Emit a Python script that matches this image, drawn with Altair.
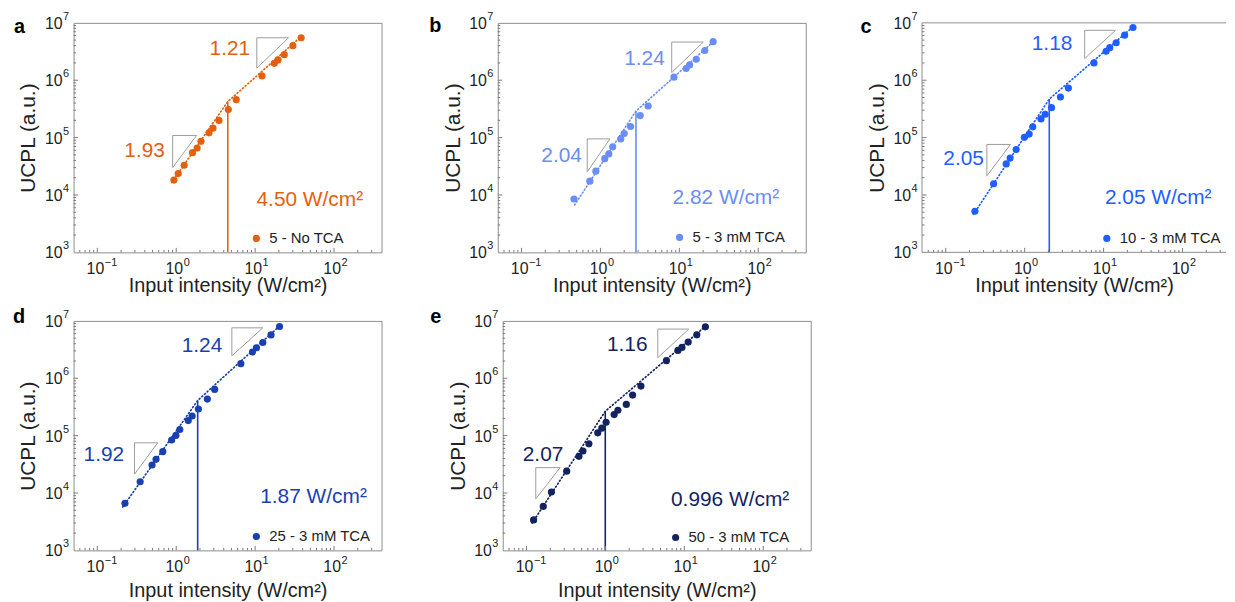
import altair as alt
import pandas as pd

FONT = "Liberation Sans"
TXT = "#222222"
FRAME = "#8c8c8c"
TRI = "#9c9c9c"

# ---------------- data ----------------
letters = ["a", "b", "c", "d", "e"]
legend_labels = ["5 - No TCA", "5 - 3 mM TCA", "10 - 3 mM TCA", "25 - 3 mM TCA", "50 - 3 mM TCA"]
colors = ["#E5600E", "#6A8DF6", "#1F5EFF", "#1A40B0", "#13235F"]

a_x = [0.935, 1.06, 1.26, 1.61, 1.84, 2.06, 2.60, 2.92, 3.48, 4.57, 5.76, 12.2, 17.5, 19.5, 23.4, 30.1, 38.3]
a_y = [1.82e4, 2.36e4, 3.3e4, 5.46e4, 6.58e4, 8.6e4, 1.21e5, 1.46e5, 1.99e5, 3.08e5, 4.59e5,
       1.19e6, 1.97e6, 2.26e6, 2.79e6, 4.0e6, 5.5e6]
b_x = [0.462, 0.734, 0.875, 1.135, 1.276, 1.43, 1.81, 2.0, 2.41, 3.19, 4.02, 8.55, 12.2, 13.5, 16.4, 21.0, 26.8]
b_y = [8.5e3, 1.74e4, 2.6e4, 4.3e4, 5.2e4, 6.9e4, 9.5e4, 1.18e5, 1.56e5, 2.42e5, 3.56e5,
       1.13e6, 1.6e6, 1.85e6, 2.32e6, 3.3e6, 4.7e6]
c_x = [0.234, 0.404, 0.583, 0.654, 0.780, 0.991, 1.14, 1.265, 1.61, 1.82, 2.19, 2.84, 3.58,
       7.55, 10.76, 11.99, 14.44, 18.5, 23.6]
c_y = [5.2e3, 1.57e4, 3.48e4, 4.4e4, 6.2e4, 1.01e5, 1.15e5, 1.54e5, 2.12e5, 2.55e5, 3.33e5, 5.1e5, 7.3e5,
       2.0e6, 3.2e6, 3.7e6, 4.5e6, 6.1e6, 8.3e6]
d_x = [0.224, 0.349, 0.494, 0.555, 0.675, 0.875, 0.99, 1.11, 1.42, 1.59, 1.91, 2.48, 3.07,
       6.59, 9.25, 10.4, 12.5, 15.9, 20.4]
d_y = [6.6e3, 1.57e4, 3.08e4, 3.87e4, 5.25e4, 8.4e4, 1.01e5, 1.28e5, 1.83e5, 2.2e5, 2.91e5, 4.34e5, 6.4e5,
       1.8e6, 2.87e6, 3.4e6, 4.2e6, 5.7e6, 8.0e6]
e_x = [0.123, 0.163, 0.207, 0.323, 0.462, 0.519, 0.618, 0.80, 0.90, 1.02, 1.29, 1.44, 1.84, 2.21, 2.82,
       5.93, 8.3, 9.33, 11.2, 14.4, 18.5]
e_y = [3.4e3, 5.85e3, 1.04e4, 2.4e4, 4.36e4, 5.4e4, 7.2e4, 1.12e5, 1.35e5, 1.71e5, 2.33e5, 2.77e5, 3.5e5,
       5.1e5, 7.3e5, 2.03e6, 3.06e6, 3.45e6, 4.28e6, 5.72e6, 7.87e6]

# two-segment power-law fits: start, threshold, end
a_fit_x = [0.88, 4.50, 38.5]
a_fit_y = [1.65e4, 4.24e5, 5.8e6]
b_fit_x = [0.47, 2.82, 27.5]
b_fit_y = [6.7e3, 2.9e5, 4.8e6]
c_fit_x = [0.225, 2.05, 23.8]
c_fit_y = [4.6e3, 4.7e5, 8.6e6]
d_fit_x = [0.21, 1.87, 20.5]
d_fit_y = [5.7e3, 4.1e5, 8.2e6]
e_fit_x = [0.118, 0.996, 18.8]
e_fit_y = [3.0e3, 2.66e5, 8.2e6]

thresholds = [4.50, 2.82, 2.05, 1.87, 0.996]
threshold_labels = ["4.50 W/cm²", "2.82 W/cm²", "2.05 W/cm²", "1.87 W/cm²", "0.996 W/cm²"]
threshold_label_x = [10.4, 8.2, 10.4, 11.6, 6.78]
threshold_label_y = [8.2e3, 8.7e3, 8.7e3, 8.4e3, 7.6e3]

# slope triangles (upper, lower): left x, right x, top y, bottom y
a_tri = ([10.5, 0.90], [26.5, 1.81], [5.5e6, 1.09e5], [1.62e6, 3.0e4])
b_tri = ([8.0, 0.68], [20.1, 1.32], [4.63e6, 9.5e4], [1.36e6, 2.53e4])
c_tri = ([5.76, 0.332], [14.16, 0.661], [7.4e6, 7.6e4], [2.38e6, 2.15e4])
d_tri = ([5.07, 0.296], [12.5, 0.583], [7.57e6, 7.5e4], [2.45e6, 2.13e4])
e_tri = ([4.61, 0.131], [11.4, 0.267], [7.2e6, 2.77e4], [2.29e6, 7.9e3])

# slope labels (upper, lower): text, right-edge x, centre y
a_slopes = (["1.21", "1.93"], [8.65, 0.72], [3.45e6, 5.8e4])
b_slopes = (["1.24", "2.04"], [6.53, 0.583], [2.3e6, 4.8e4])
c_slopes = (["1.18", "2.05"], [4.02, 0.305], [4.2e6, 4.3e4])
d_slopes = (["1.24", "1.92"], [3.84, 0.219], [3.69e6, 4.6e4])
e_slopes = (["1.16", "2.07"], [3.42, 0.293], [3.8e6, 4.54e4])

# axis ticks / labels
x_major = [0.1, 1, 10, 100]
x_major_exp = ["−1", "0", "1", "2"]
x_minor = [0.06, 0.07, 0.08, 0.09, 0.2, 0.3, 0.4, 0.5, 0.6, 0.7, 0.8, 0.9,
           2, 3, 4, 5, 6, 7, 8, 9, 20, 30, 40, 50, 60, 70, 80, 90, 200, 300]
y_major = [1e3, 1e4, 1e5, 1e6, 1e7]
y_major_exp = ["3", "4", "5", "6", "7"]
y_minor = [m * 10 ** k for k in range(3, 7) for m in range(2, 10)]

X_TITLE = "Input intensity (W/cm²)"
Y_TITLE = "UCPL (a.u.)"

H = 231


def make_panel(i, xs, ys, fx, fy, tri, slopes, width, xmax, letter_pos, legend_pos,
               x_title_pad, right_border=True):
    color = colors[i]
    W = width
    xsc = alt.Scale(type="log", domain=[0.05, xmax], nice=False)
    ysc = alt.Scale(type="log", domain=[1e3, 1e7], nice=False)
    xax = alt.Axis(title=X_TITLE, labels=False, ticks=False, domain=False, grid=False,
                   titleFont=FONT, titleFontSize=20, titleFontWeight="normal", titleColor=TXT,
                   titlePadding=x_title_pad, minExtent=0, maxExtent=0)
    yax = alt.Axis(title=Y_TITLE, labels=False, ticks=False, domain=False, grid=False,
                   titleFont=FONT, titleFontSize=21, titleFontWeight="normal", titleColor=TXT,
                   titlePadding=35, minExtent=0, maxExtent=0)

    def X(field="x"):
        return alt.X(f"{field}:Q", scale=xsc, axis=xax)

    def Y(field="y"):
        return alt.Y(f"{field}:Q", scale=ysc, axis=yax)

    layers = []
    pts = pd.DataFrame({"x": xs, "y": ys})
    layers.append(alt.Chart(pts).mark_circle(size=52, opacity=1, color=color).encode(x=X(), y=Y()))

    fit = pd.DataFrame({"x": fx, "y": fy, "o": list(range(len(fx)))})
    layers.append(alt.Chart(fit).mark_line(color=color, strokeDash=[1, 2.6], strokeCap="round",
                                           strokeWidth=1.7).encode(x=X(), y=Y(), order="o:Q"))

    thr = pd.DataFrame({"x": [thresholds[i]], "y": [1e3], "y2": [fy[1]]})
    layers.append(alt.Chart(thr).mark_rule(color=color, strokeWidth=1.6).encode(
        x=X(), y=Y(), y2="y2:Q"))

    x0s, x1s, tops, bots = tri
    rows = []
    for k in range(2):
        corners = [(x0s[k], bots[k]), (x0s[k], tops[k]), (x1s[k], tops[k]), (x0s[k], bots[k])]
        for o, (cx, cy) in enumerate(corners):
            rows.append({"t": k, "o": o, "x": cx, "y": cy})
    layers.append(alt.Chart(pd.DataFrame(rows)).mark_line(color=TRI, strokeWidth=1).encode(
        x=X(), y=Y(), detail="t:N", order="o:Q"))

    st, sx, sy = slopes
    layers.append(alt.Chart(pd.DataFrame({"t": st, "x": sx, "y": sy})).mark_text(
        align="right", baseline="middle", font=FONT, fontSize=21, color=color).encode(
        x=X(), y=Y(), text="t:N"))

    tl = pd.DataFrame({"t": [threshold_labels[i]], "x": [threshold_label_x[i]],
                       "y": [threshold_label_y[i]]})
    layers.append(alt.Chart(tl).mark_text(align="left", baseline="middle", font=FONT,
                                          fontSize=21, color=color).encode(
        x=X(), y=Y(), text="t:N"))

    # legend
    lx, ly, ltx = legend_pos
    lg = pd.DataFrame({"t": [legend_labels[i]]})
    layers.append(alt.Chart(lg).mark_circle(size=52, opacity=1, color=color).encode(
        x=alt.value(lx), y=alt.value(ly)))
    layers.append(alt.Chart(lg).mark_text(align="left", baseline="middle", font=FONT,
                                          fontSize=15, color=TXT).encode(
        x=alt.value(ltx), y=alt.value(ly), text="t:N"))

    # panel letter
    px, py = letter_pos
    layers.append(alt.Chart(pd.DataFrame({"t": [letters[i]]})).mark_text(
        align="left", baseline="alphabetic", font=FONT, fontSize=20, fontWeight="bold",
        color="#000000").encode(x=alt.value(px), y=alt.value(py), text="t:N"))

    # inward ticks
    xm = pd.DataFrame({"x": [v for v in x_major if v < xmax]})
    xn = pd.DataFrame({"x": [v for v in x_minor if v < xmax]})
    ym = pd.DataFrame({"y": y_major[1:-1]})
    yn = pd.DataFrame({"y": y_minor})
    tick = dict(color="#7a7a7a", strokeWidth=1)
    layers.append(alt.Chart(xm).mark_rule(**tick).encode(x=X(), y=alt.value(H), y2=alt.value(H - 4.5)))
    layers.append(alt.Chart(xn).mark_rule(**tick).encode(x=X(), y=alt.value(H), y2=alt.value(H - 2.5)))
    layers.append(alt.Chart(ym).mark_rule(**tick).encode(y=Y(), x=alt.value(0), x2=alt.value(4.5)))
    layers.append(alt.Chart(yn).mark_rule(**tick).encode(y=Y(), x=alt.value(0), x2=alt.value(2.5)))

    # tick labels (10 with superscript exponent)
    xl = pd.DataFrame({"x": x_major, "b": ["10"] * len(x_major), "e": x_major_exp})
    layers.append(alt.Chart(xl).mark_text(align="right", baseline="middle", font=FONT, fontSize=16,
                                          color=TXT, dx=7).encode(
        x=X(), y=alt.value(H + 17), text="b:N"))
    layers.append(alt.Chart(xl).mark_text(align="left", baseline="middle", font=FONT, fontSize=11,
                                          color=TXT, dx=7.5).encode(
        x=X(), y=alt.value(H + 10.5), text="e:N"))
    yl = pd.DataFrame({"y": y_major, "b": ["10"] * len(y_major), "e": y_major_exp})
    layers.append(alt.Chart(yl).mark_text(align="right", baseline="middle", font=FONT, fontSize=16,
                                          color=TXT, dy=1).encode(
        x=alt.value(-11), y=Y(), text="b:N"))
    layers.append(alt.Chart(yl).mark_text(align="right", baseline="middle", font=FONT, fontSize=11,
                                          color=TXT, dy=-6).encode(
        x=alt.value(-4.5), y=Y(), text="e:N"))

    if not right_border:
        fr = pd.DataFrame({"t": [0]})
        fs = dict(color=FRAME, strokeWidth=1)
        layers.append(alt.Chart(fr).mark_rule(**fs).encode(x=alt.value(0), x2=alt.value(W), y=alt.value(0)))
        layers.append(alt.Chart(fr).mark_rule(**fs).encode(x=alt.value(0), x2=alt.value(W), y=alt.value(H)))
        layers.append(alt.Chart(fr).mark_rule(**fs).encode(x=alt.value(0), y=alt.value(0), y2=alt.value(H)))
        view = alt.ViewBackground(stroke="transparent")
    else:
        view = alt.ViewBackground(stroke=FRAME, strokeWidth=1)

    return alt.layer(*layers).properties(width=W, height=H, view=view)


pa = make_panel(0, a_x, a_y, a_fit_x, a_fit_y, a_tri, a_slopes, 310, 400, (-60, 10), (184, 217, 197), 23)
pb = make_panel(1, b_x, b_y, b_fit_x, b_fit_y, b_tri, b_slopes, 310, 400, (-69, 9.5), (183, 216, 196), 23)
pc = make_panel(2, c_x, c_y, c_fit_x, c_fit_y, c_tri, c_slopes, 306, 356, (-62, 10), (186, 217, 199), 23,
                right_border=False)
pd_ = make_panel(3, d_x, d_y, d_fit_x, d_fit_y, d_tri, d_slopes, 310, 400, (-61, 2), (184, 217, 197), 30)
pe = make_panel(4, e_x, e_y, e_fit_x, e_fit_y, e_tri, e_slopes, 310, 400, (-73, 2), (174, 218, 187), 30)

row1 = alt.hconcat(pa, pb, pc, spacing=117, bounds="flush")
row2 = alt.hconcat(pd_, pe, spacing=122, bounds="flush")
chart = alt.vconcat(row1, row2, spacing=10).properties(
    padding={"left": 4, "top": 0, "right": 0, "bottom": 0}
).configure(font=FONT).configure_view(stroke=FRAME)

chart.save("out.html", embed_options={"renderer": "svg", "actions": False})
